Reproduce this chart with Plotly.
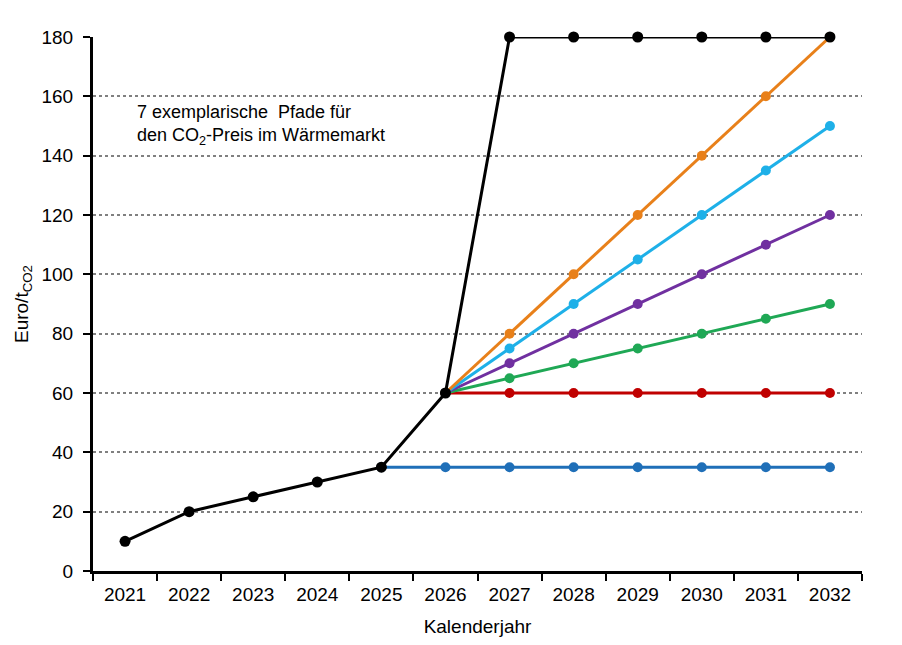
import plotly.graph_objects as go

years = [str(y) for y in range(2021, 2033)]
black = [10, 20, 25, 30, 35, 60, 180, 180, 180, 180, 180, 180]
blue_years = years[4:]
blue = [35, 35, 35, 35, 35, 35, 35, 35]
path_years = years[5:]
red = [60, 60, 60, 60, 60, 60, 60]
green = [60, 65, 70, 75, 80, 85, 90]
purple = [60, 70, 80, 90, 100, 110, 120]
cyan = [60, 75, 90, 105, 120, 135, 150]
orange = [60, 80, 100, 120, 140, 160, 180]

fig = go.Figure()

def add(x, y, color, width=3, size=10):
    fig.add_trace(go.Scatter(x=x, y=y, mode="lines+markers",
                             line=dict(color=color, width=width),
                             marker=dict(color=color, size=size),
                             showlegend=False, cliponaxis=False))

add(blue_years, blue, "#1F6FB8")
add(path_years, red, "#C00000")
add(path_years, green, "#1FA855")
add(path_years, purple, "#7030A0")
add(path_years, cyan, "#1EB0E8")
add(path_years, orange, "#E8801A")
add(years, black, "#000000", width=3, size=11)

FONT = "Liberation Sans, Arial, sans-serif"

fig.update_layout(
    width=886, height=629,
    margin=dict(l=82, r=32, t=29, b=66),
    plot_bgcolor="white", paper_bgcolor="white",
    font=dict(family=FONT, size=18, color="black"),
    xaxis=dict(type="category", categoryorder="array", categoryarray=years,
               range=[-0.5, len(years) - 0.5], autorange=False, automargin=False,
               tickson="boundaries", ticks="outside", ticklen=7, tickwidth=2,
               tickcolor="black", showline=True, linecolor="black", linewidth=3,
               showgrid=False, tickfont=dict(size=19), ticklabelstandoff=4,
               title=dict(text="Kalenderjahr", font=dict(size=19), standoff=16)),
    yaxis=dict(range=[0, 180], autorange=False, dtick=20, ticks="outside", ticklen=7, tickwidth=2,
               tickcolor="black", showline=True, linecolor="black", linewidth=3,
               showgrid=True, gridcolor="#808080", griddash="dot", gridwidth=1.5,
               zeroline=False, tickfont=dict(size=19), ticklabelstandoff=6,
               title=dict(text="Euro/t<sub>CO2</sub>", font=dict(size=19), standoff=8)),
    annotations=[dict(x=0.055, y=0.882, xref="paper", yref="paper",
                      xanchor="left", yanchor="top", align="left", showarrow=False,
                      text="7 exemplarische  Pfade für<br>den CO<sub>2</sub>-Preis im Wärmemarkt",
                      font=dict(size=18))]
)

fig.write_html("out.html")
